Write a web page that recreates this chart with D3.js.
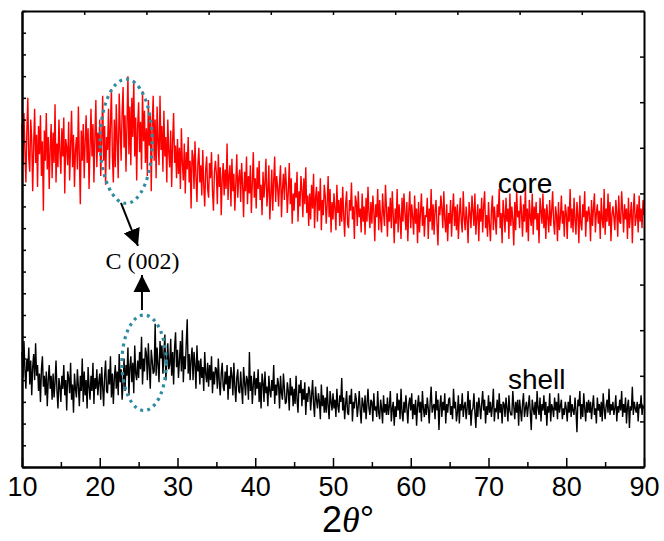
<!DOCTYPE html>
<html>
<head>
<meta charset="utf-8">
<script src="https://cdn.jsdelivr.net/npm/d3@7"></script>
<style>
  html, body { margin: 0; padding: 0; background: #fff; }
  .tick text { font-family: "Liberation Sans", Arial, sans-serif; }
</style>
</head>
<body>
<div id="chart"></div>
<script>
// XRD patterns, 2theta from 10 to 90 deg, 0.125 deg step (arbitrary intensity units)
const twoThetaStart = 10;
const twoThetaStep = 0.125;

const coreIntensity = [
  158,139,163,146,131,155,170,142, 136,160,151,127,148,165,140,153,
  129,157,144,162,134,150,118,155, 141,163,137,152,128,147,158,133,
  154,140,167,131,149,138,160,145, 135,156,143,161,126,151,147,139,
  159,132,148,164,138,153,129,146, 152,137,166,143,121,155,141,158,
  133,150,162,140,156,128,147,165, 143,158,131,152,169,138,154,145,
  160,134,149,171,141,157,130,152, 146,165,137,158,174,143,131,160,
  138,167,150,133,172,156,141,163, 175,147,162,136,158,180,144,166,
  139,170,152,178,143,161,132,157, 168,145,159,137,173,150,164,140,
  156,134,169,148,162,127,158,171, 141,160,133,166,150,139,171,146,
  157,136,164,143,152,131,160,145, 138,155,129,150,163,140,148,133,
  151,135,147,128,156,140,132,149, 126,145,137,152,131,141,119,146,
  143,128,150,134,122,140,147,131, 139,125,146,130,120,137,143,128,
  124,140,133,145,127,118,136,141, 135,121,144,129,138,116,133,140,
  125,137,128,149,123,134,139,120, 142,127,135,118,131,144,124,133,
  137,122,140,130,115,136,127,143, 121,134,126,139,117,131,145,124,
  133,119,138,128,141,123,130,116, 136,124,131,142,120,127,139,114,
  125,137,118,132,143,122,134,129, 120,131,139,115,128,135,123,138,
  130,117,127,140,121,133,112,126, 118,131,124,136,113,127,120,134,
  128,115,133,121,138,117,125,111, 126,114,130,119,135,110,124,129,
  113,127,118,133,109,123,116,130, 125,112,121,134,115,128,108,122,
  114,126,119,109,130,117,123,111, 124,113,129,116,106,121,127,112,
  110,123,118,131,114,120,105,125, 122,111,127,115,119,108,126,113,
  120,107,124,113,129,117,110,122, 112,125,118,104,121,115,128,109,
  123,114,108,126,117,111,130,119, 106,120,113,124,110,127,116,103,
  119,112,128,108,121,115,105,124, 113,126,117,109,122,104,118,127,
  110,121,115,107,125,112,119,103, 122,108,117,126,111,120,106,116,
  115,124,105,119,113,128,109,121, 107,118,123,112,102,120,116,125,
  119,110,127,114,108,121,104,117, 112,123,106,118,126,111,120,109,
  121,105,116,124,113,108,127,115, 109,120,114,103,122,117,110,125,
  118,111,126,107,115,121,104,119, 113,124,108,120,127,110,116,106,
  122,112,104,118,125,109,120,114, 107,121,115,128,110,117,103,123,
  116,108,124,113,119,105,126,111, 120,114,102,122,109,127,115,118,
  110,125,117,106,121,113,129,108, 119,104,123,115,111,126,107,120,
  114,122,109,117,103,124,118,112, 126,110,119,105,121,115,108,123,
  111,118,127,113,107,120,116,104, 122,109,115,125,112,118,106,121,
  117,105,120,113,128,110,119,108, 124,114,107,122,116,103,125,112,
  109,121,115,127,106,118,113,120, 116,104,123,111,119,126,108,117,
  121,112,118,105,124,114,110,128, 107,119,113,126,111,122,104,116,
  120,115,109,123,117,106,125,113, 112,127,118,108,121,114,119,105,
  124,110,116,122,103,118,126,111, 115,121,108,125,113,119,110,123,
  116
];

const shellIntensity = [
  53,41,58,45,36,50,44,55, 38,49,33,46,52,40,57,42,
  47,35,43,30,45,51,37,42, 33,44,28,40,47,36,42,31,
  43,32,39,49,35,27,41,37, 30,42,36,47,33,40,26,44,
  41,34,48,31,38,25,43,36, 32,45,37,28,42,35,50,30,
  44,33,40,27,46,37,31,42, 35,48,29,41,36,45,33,39,
  43,31,46,37,28,42,49,35, 34,45,38,51,32,43,29,41,
  47,36,44,33,52,39,45,31, 38,50,35,47,42,55,33,46,
  51,39,48,34,56,43,40,49, 41,53,45,60,38,50,44,55,
  52,40,57,46,36,54,49,43, 44,66,42,55,47,39,58,50,
  56,43,52,61,40,48,57,45, 47,59,42,53,38,55,62,46,
  54,41,49,58,44,63,39,51, 45,57,68,43,52,40,50,55,
  40,53,47,36,56,44,49,38, 50,41,46,35,53,43,39,48,
  37,47,40,51,34,44,38,46, 45,36,50,39,33,43,48,37,
  35,44,38,47,31,42,36,46, 42,33,48,37,30,41,45,35,
  34,44,36,29,46,39,33,42, 40,31,53,35,42,29,38,44,
  33,41,36,45,30,39,27,43, 39,30,44,34,37,28,42,35,
  32,40,35,47,29,38,33,41, 38,27,42,34,31,43,36,29,
  30,39,35,26,41,33,37,28, 36,29,42,31,25,38,34,40,
  28,36,31,39,24,34,30,37, 35,26,33,40,29,23,37,31,
  27,34,30,22,38,28,33,25, 32,25,37,28,22,35,30,26,
  34,27,31,23,36,28,25,33, 30,41,26,32,22,29,35,25,
  24,33,29,36,21,30,27,34, 31,23,28,35,26,20,32,29,
  25,33,22,29,36,27,24,31, 30,21,34,26,28,23,35,25,
  22,31,27,20,33,25,29,24, 32,24,28,35,21,27,30,19,
  28,23,34,26,31,22,36,25, 21,30,25,33,27,20,29,32,
  26,34,22,29,24,31,19,28, 33,25,30,21,35,27,23,29,
  24,32,27,20,30,37,25,28, 29,22,35,26,31,17,28,33,
  23,30,26,34,20,29,25,31, 32,24,28,22,36,27,30,21,
  25,33,20,29,26,34,23,28, 30,22,27,35,24,31,19,26,
  27,34,25,18,30,23,32,28, 22,29,35,26,31,20,28,24,
  33,25,30,23,28,36,21,27, 26,31,22,34,25,29,20,30,
  29,23,32,27,21,33,26,24, 24,35,28,22,30,25,31,19,
  31,26,21,29,34,23,27,30, 23,28,33,25,17,31,27,24,
  30,22,35,27,24,32,21,29, 26,33,24,30,19,28,25,34,
  21,29,27,23,32,26,30,22, 34,25,28,31,22,27,24,30,
  27,21,30,25,33,23,29,26, 24,32,26,16,31,28,35,22,
  29,23,34,27,21,30,25,31, 25,30,22,28,33,24,27,20,
  32,26,29,23,30,21,34,27, 22,28,31,25,36,24,29,26,
  30,24,27,33,21,28,25,31, 26,35,23,29,25,32,20,28,
  31,18,28,26,37,24,30,27, 25,30,21,29,27,33,24,28,
  27
];

const xMajorTicks = [10, 20, 30, 40, 50, 60, 70, 80, 90];
const xMinorTicks = [15, 25, 35, 45, 55, 65, 75, 85];
const xTopTicks = [18, 26, 34, 42, 50, 58, 66, 74, 82];
const yLeftTicks = d3.range(0, 211, 10);
const yRightTicks = d3.range(0, 211, 21);

const seriesLabels = ['core', 'shell'];
const peakLabel = 'C (002)';

const margin = { top: 11, right: 20, bottom: 74, left: 22 };
const width = 664 - margin.left - margin.right;
const height = 541 - margin.top - margin.bottom;

const svg = d3
  .select('#chart')
  .append('svg')
  .attr('width', width + margin.left + margin.right)
  .attr('height', height + margin.top + margin.bottom)
  .append('g')
  .attr('transform', `translate(${margin.left}, ${margin.top})`);

const x = d3.scaleLinear().domain([10, 90]).range([0, width]);
const y = d3.scaleLinear().domain([0, 210]).range([height, 0]);

const toPoints = (arr) => arr.map((v, i) => ({ t: twoThetaStart + i * twoThetaStep, v }));

const line = d3
  .line()
  .x((d) => x(d.t))
  .y((d) => y(d.v));

svg.append('path')
  .datum(toPoints(coreIntensity))
  .attr('fill', 'none')
  .attr('stroke', '#ff0000')
  .attr('stroke-width', 1.4)
  .attr('d', line);

svg.append('path')
  .datum(toPoints(shellIntensity))
  .attr('fill', 'none')
  .attr('stroke', '#000')
  .attr('stroke-width', 1.4)
  .attr('d', line);

// axes (ticks pointing inward)
const styleAxis = (g, w) => {
  g.selectAll('.domain').attr('stroke', '#000').attr('stroke-width', w);
  g.selectAll('.tick line').attr('stroke', '#000').attr('stroke-width', 1.5);
};

svg.append('g')
  .attr('transform', `translate(0, ${height})`)
  .call(d3.axisBottom(x).tickValues(xMinorTicks).tickSize(-5).tickSizeOuter(0).tickFormat(''))
  .call((g) => styleAxis(g, 2));

svg.append('g')
  .attr('transform', `translate(0, ${height})`)
  .call(d3.axisBottom(x).tickValues(xMajorTicks).tickSize(-9).tickSizeOuter(0).tickPadding(10))
  .call((g) => styleAxis(g, 2))
  .call((g) => g.selectAll('.tick text').attr('font-size', 27).attr('fill', '#000'));

svg.append('g')
  .call(d3.axisTop(x).tickValues(xTopTicks).tickSize(-4).tickSizeOuter(0).tickFormat(''))
  .call((g) => styleAxis(g, 2));

svg.append('g')
  .call(d3.axisLeft(y).tickValues(yLeftTicks).tickSize(-4).tickSizeOuter(0).tickFormat(''))
  .call((g) => styleAxis(g, 2.5));

svg.append('g')
  .attr('transform', `translate(${width}, 0)`)
  .call(d3.axisRight(y).tickValues(yRightTicks).tickSize(-4).tickSizeOuter(0).tickFormat(''))
  .call((g) => styleAxis(g, 2));

// x-axis title
const title = svg.append('text')
  .attr('x', width / 2 + 15)
  .attr('y', height + 65)
  .attr('text-anchor', 'middle')
  .attr('font-family', '"Liberation Sans", Arial, sans-serif')
  .attr('font-size', 36)
  .attr('fill', '#000');
title.append('tspan').text('2');
title.append('tspan').attr('font-family', '"Liberation Serif", serif').attr('font-style', 'italic').text('θ');
title.append('tspan').text('°');

// series labels
svg.append('text')
  .attr('x', x(71.2))
  .attr('y', y(126))
  .attr('font-family', '"Liberation Sans", Arial, sans-serif')
  .attr('font-size', 28)
  .text(seriesLabels[0]);

svg.append('text')
  .attr('x', x(72.5))
  .attr('y', y(36))
  .attr('font-family', '"Liberation Sans", Arial, sans-serif')
  .attr('font-size', 28)
  .text(seriesLabels[1]);

// peak annotation
const ellipses = [
  { t: 23.4, v: 150, dt: 3.35, dv: 28.6 },
  { t: 25.7, v: 48, dt: 2.85, dv: 22 },
];

svg.selectAll('ellipse.peak')
  .data(ellipses)
  .join('ellipse')
  .attr('class', 'peak')
  .attr('cx', (d) => x(d.t))
  .attr('cy', (d) => y(d.v))
  .attr('rx', (d) => x(d.t + d.dt) - x(d.t))
  .attr('ry', (d) => y(d.v) - y(d.v + d.dv))
  .attr('fill', 'none')
  .attr('stroke', '#2f8ca3')
  .attr('stroke-width', 3.2)
  .attr('stroke-dasharray', '3 4.2');

svg.append('defs')
  .append('marker')
  .attr('id', 'head')
  .attr('viewBox', '0 0 10 10')
  .attr('refX', 10)
  .attr('refY', 5)
  .attr('markerWidth', 8.5)
  .attr('markerHeight', 8.5)
  .attr('markerUnits', 'strokeWidth')
  .attr('orient', 'auto')
  .append('path')
  .attr('d', 'M0,0 L10,5 L0,10 Z')
  .attr('fill', '#000');

const arrows = [
  { t0: 22.73, v0: 121.6, t1: 24.92, v1: 101.8 },
  { t0: 25.43, v0: 72.3, t1: 25.43, v1: 88.4 },
];

svg.selectAll('line.arrow')
  .data(arrows)
  .join('line')
  .attr('class', 'arrow')
  .attr('x1', (d) => x(d.t0))
  .attr('y1', (d) => y(d.v0))
  .attr('x2', (d) => x(d.t1))
  .attr('y2', (d) => y(d.v1))
  .attr('stroke', '#000')
  .attr('stroke-width', 2)
  .attr('marker-end', 'url(#head)');

svg.append('text')
  .attr('x', x(25.5))
  .attr('y', y(91.2))
  .attr('text-anchor', 'middle')
  .attr('font-family', '"Liberation Serif", "Times New Roman", serif')
  .attr('font-size', 24)
  .text(peakLabel);
</script>
</body>
</html>
